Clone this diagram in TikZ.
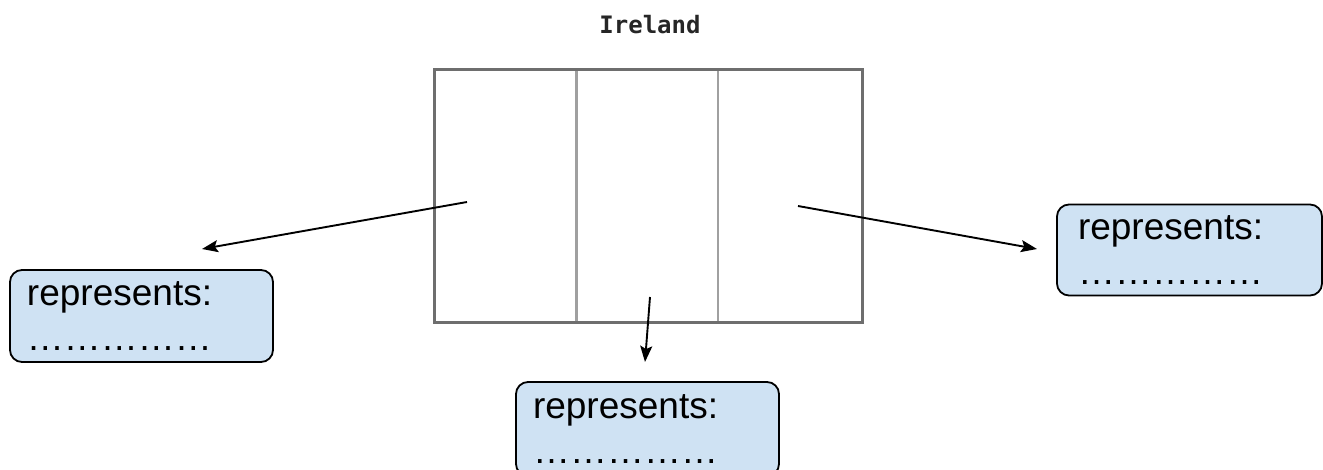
\documentclass[tikz,border=0pt]{standalone}
\usepackage{fontspec}
\setmainfont{Liberation Sans}
\newfontfamily\titlefont{DejaVu Sans Mono}
\usetikzlibrary{arrows.meta}

\definecolor{boxfill}{HTML}{CFE2F3}
\definecolor{flagedge}{HTML}{6E6E6E}
\definecolor{flagdivider}{HTML}{A0A0A0}

\tikzset{
  answerbox/.style={draw=black, line width=1.8pt, fill=boxfill,
    rounded corners=12pt, minimum width=263pt, minimum height=92pt,
    text width=229pt, inner xsep=17pt, inner ysep=0pt, align=left,
    font=\fontsize{37}{45}\selectfont},
  pointer/.style={line width=1.9pt, -{Stealth[length=16pt,width=12pt,inset=3pt]}},
}

\begin{document}
\begin{tikzpicture}[x=1pt, y=-1pt]
  \useasboundingbox (0,0) rectangle (1323,470);

  % title
  \node[font=\titlefont\bfseries\fontsize{24}{26}\selectfont, text=black!85] (title) at (650,25) {Ireland};

  % flag outline with three vertical stripes
  \node[minimum width=141pt, minimum height=252pt, inner sep=0pt] (left)   at (505.5,196) {};
  \node[minimum width=142pt, minimum height=252pt, inner sep=0pt] (middle) at (647,196) {};
  \node[minimum width=144pt, minimum height=252pt, inner sep=0pt] (right)  at (790,196) {};
  \draw[flagdivider, line width=2.6pt] (left.north east) -- (left.south east);
  \draw[flagdivider, line width=2.6pt] (right.north west) -- (right.south west);
  \draw[flagedge, line width=2.8pt] (left.north west) rectangle (right.south east);

  % answer boxes
  \node[answerbox] (boxleft)   at (141.5,316) {represents:\\……………};
  \node[answerbox, minimum height=94pt] (boxmiddle) at (647.5,429) {represents:\\……………};
  \node[answerbox, minimum width=265pt, minimum height=91pt, text width=223pt, inner xsep=21pt] (boxright) at (1189.5,250) {represents:\\……………};

  % pointers from each stripe
  \coordinate (sl) at (467,202);
  \coordinate (sm) at (650,297);
  \coordinate (sr) at (798,206);
  \coordinate (el) at (202,249);
  \coordinate (em) at (645,362);
  \coordinate (er) at (1037,249);
  \draw[pointer] (sl) -- (el);
  \draw[pointer] (sm) -- (em);
  \draw[pointer] (sr) -- (er);
\end{tikzpicture}
\end{document}
